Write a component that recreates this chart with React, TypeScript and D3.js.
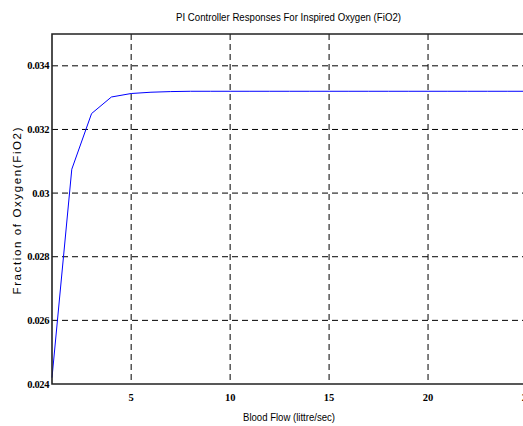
import React from "react";
import * as d3 from "d3";

const xValues = [1, 2, 3, 4, 5, 6, 7, 8, 9, 10, 11, 12, 13, 14, 15, 16, 17, 18, 19, 20, 21, 22, 23, 24, 25];
const yValues = [0.0242, 0.03075, 0.0325, 0.03302, 0.03313, 0.03317, 0.03319, 0.0332, 0.0332, 0.0332, 0.0332, 0.0332, 0.0332, 0.0332, 0.0332, 0.0332, 0.0332, 0.0332, 0.0332, 0.0332, 0.0332, 0.0332, 0.0332, 0.0332, 0.0332];
const xTicks = [5, 10, 15, 20, 25];
const yTicks = [0.024, 0.026, 0.028, 0.03, 0.032, 0.034];
const yTickLabels = ["0.024", "0.026", "0.028", "0.03", "0.032", "0.034"];
const title = "PI Controller Responses For Inspired Oxygen (FiO2)";
const xLabel = "Blood Flow (littre/sec)";
const yLabel = "Fraction of Oxygen(FiO2)";

export default function App() {
  const W = 523, H = 426;
  const left = 52, right = 527, top = 34, bottom = 384;
  const x = d3.scaleLinear().domain([1, 25]).range([left, right]);
  const y = d3.scaleLinear().domain([0.024, 0.035]).range([bottom, top]);
  const line = d3.line<number>().x((_, i) => x(xValues[i])).y((d) => y(d));
  const sans = "'Liberation Sans', Arial, sans-serif";
  const serif = "'Liberation Serif', 'Times New Roman', serif";
  return (
    <svg width={W} height={H} style={{ position: "absolute", left: 0, top: 0, background: "#fff" }}>
      <rect x={0} y={0} width={W} height={H} fill="#fff" />
      {xTicks.map((t) => (
        <line key={"gx" + t} x1={x(t)} x2={x(t)} y1={top} y2={bottom} stroke="#000" strokeWidth={1} strokeDasharray="6,4" />
      ))}
      {yTicks.slice(1).map((t) => (
        <line key={"gy" + t} x1={left} x2={right} y1={y(t)} y2={y(t)} stroke="#000" strokeWidth={1} strokeDasharray="6,4" />
      ))}
      <path d={line(yValues) || ""} fill="none" stroke="#0000ff" strokeWidth={1} />
      <path d={`M${right},${top}H${left}V${bottom}H${right}`} fill="none" stroke="#222" strokeWidth={1.6} />
      {xTicks.map((t) => (
        <text key={"tx" + t} x={x(t)} y={400.5} textAnchor="middle" fontFamily={serif} fontWeight="bold" fontSize={10.5}>{t}</text>
      ))}
      {yTicks.map((t, i) => (
        <text key={"ty" + t} x={49} y={y(t) + 3.5} textAnchor="end" fontFamily={serif} fontWeight="bold" fontSize={10.5} letterSpacing={-0.4}>{yTickLabels[i]}</text>
      ))}
      <text x={288.5} y={21} textAnchor="middle" fontFamily={sans} fontSize={11} textLength={225} lengthAdjust="spacingAndGlyphs">{title}</text>
      <text x={289} y={421} textAnchor="middle" fontFamily={sans} fontSize={11} textLength={92} lengthAdjust="spacingAndGlyphs">{xLabel}</text>
      <text transform={`translate(21,211) rotate(-90)`} textAnchor="middle" fontFamily={sans} fontSize={11.5} textLength={167} lengthAdjust="spacing">{yLabel}</text>
    </svg>
  );
}
